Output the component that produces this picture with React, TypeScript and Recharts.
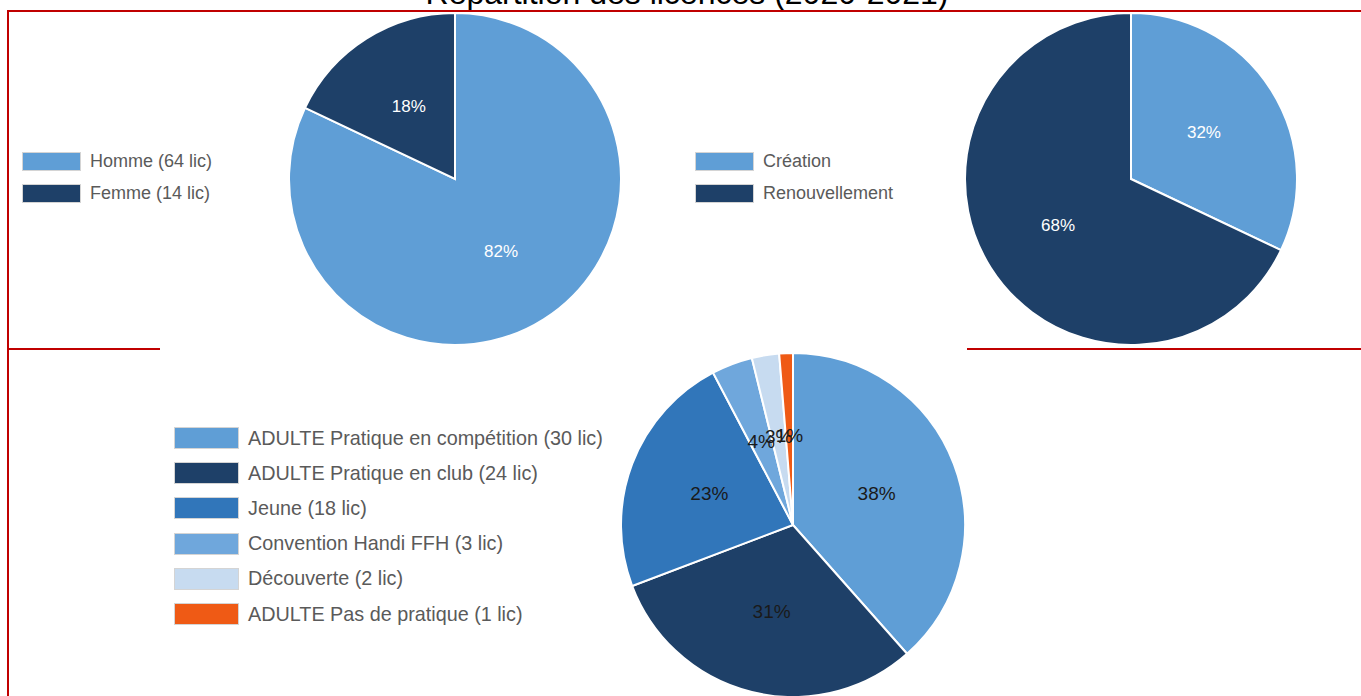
import { PieChart, Pie, Cell } from 'recharts'

const TITLE = 'Répartition des licences (2020-2021)'

const sexeLabels = ['Homme (64 lic)', 'Femme (14 lic)']
const sexeValues = [64, 14]
const sexeColors = ['#5f9ed6', '#1e4068']

const typeLabels = ['Création', 'Renouvellement']
const typeValues = [25, 53]
const typeColors = ['#5f9ed6', '#1e4068']

const catLabels = [
  'ADULTE Pratique en compétition (30 lic)',
  'ADULTE Pratique en club (24 lic)',
  'Jeune (18 lic)',
  'Convention Handi FFH (3 lic)',
  'Découverte (2 lic)',
  'ADULTE Pas de pratique (1 lic)',
]
const catValues = [30, 24, 18, 3, 2, 1]
const catColors = ['#5f9ed6', '#1e4068', '#3176ba', '#6fa7dc', '#c7dbf0', '#ef5a15']

const RADIAN = Math.PI / 180
const RED = '#c00000'
const FONT = "Arial, 'Liberation Sans', sans-serif"

function toRows(labels: string[], values: number[]) {
  return labels.map((name, i) => ({ name, value: values[i] }))
}

function makeLabel(color: string, fontSize: number) {
  return (props: any) => {
    const { cx, cy, midAngle, outerRadius, percent } = props
    const r = outerRadius * 0.52
    const x = cx + r * Math.cos(-midAngle * RADIAN)
    const y = cy + r * Math.sin(-midAngle * RADIAN)
    return (
      <text x={x} y={y} fill={color} fontSize={fontSize} textAnchor="middle" dominantBaseline="central" fontFamily={FONT}>
        {`${Math.round(percent * 100)}%`}
      </text>
    )
  }
}

function Legend({ labels, colors, left, top, box, gap, fontSize }:
  { labels: string[]; colors: string[]; left: number; top: number; box: [number, number]; gap: number; fontSize: number }) {
  return (
    <div style={{ position: 'absolute', left, top }}>
      {labels.map((l, i) => (
        <div key={l} style={{ position: 'absolute', left: 0, top: i * gap, height: box[1], display: 'flex', alignItems: 'center', whiteSpace: 'nowrap' }}>
          <div style={{ width: box[0], height: box[1], background: colors[i], border: '1px solid #d4d4d4', boxSizing: 'border-box' }} />
          <span style={{ marginLeft: 9, fontSize, color: '#5a5a5a', fontFamily: FONT }}>{l}</span>
        </div>
      ))}
    </div>
  )
}

export default function App() {
  return (
    <div style={{ position: 'absolute', left: 0, top: 0, width: 1361, height: 696, background: '#fff', overflow: 'hidden' }}>
      <div style={{ position: 'absolute', left: 0, width: 1374, top: -23, textAlign: 'center', fontSize: 32, lineHeight: '32px', color: '#000', fontFamily: FONT, whiteSpace: 'nowrap' }}>
        {TITLE}
      </div>
      {/* red frame lines */}
      <div style={{ position: 'absolute', left: 7, top: 10, width: 1354, height: 2, background: RED }} />
      <div style={{ position: 'absolute', left: 7, top: 10, width: 2, height: 686, background: RED }} />
      <div style={{ position: 'absolute', left: 7, top: 348, width: 153, height: 2, background: RED }} />
      <div style={{ position: 'absolute', left: 967, top: 348, width: 394, height: 2, background: RED }} />

      <div style={{ position: 'absolute', left: 0, top: 0 }}>
        <PieChart width={1361} height={696} margin={{ top: 0, right: 0, bottom: 0, left: 0 }}>
          <Pie data={toRows(sexeLabels, sexeValues)} dataKey="value" nameKey="name" cx={455} cy={179} outerRadius={166}
            startAngle={90} endAngle={-270} stroke="#fff" strokeWidth={2} labelLine={false}
            label={makeLabel('#ffffff', 17)} isAnimationActive={false}>
            {sexeValues.map((_, i) => <Cell key={i} fill={sexeColors[i]} />)}
          </Pie>
          <Pie data={toRows(typeLabels, typeValues)} dataKey="value" nameKey="name" cx={1131} cy={179} outerRadius={166}
            startAngle={90} endAngle={-270} stroke="#fff" strokeWidth={2} labelLine={false}
            label={makeLabel('#ffffff', 17)} isAnimationActive={false}>
            {typeValues.map((_, i) => <Cell key={i} fill={typeColors[i]} />)}
          </Pie>
          <Pie data={toRows(catLabels, catValues)} dataKey="value" nameKey="name" cx={793} cy={525} outerRadius={172}
            startAngle={90} endAngle={-270} stroke="#fff" strokeWidth={2} labelLine={false}
            label={makeLabel('#1a1a1a', 19)} isAnimationActive={false}>
            {catValues.map((_, i) => <Cell key={i} fill={catColors[i]} />)}
          </Pie>
        </PieChart>
      </div>

      <Legend labels={sexeLabels} colors={sexeColors} left={22} top={152} box={[59, 19]} gap={32} fontSize={18} />
      <Legend labels={typeLabels} colors={typeColors} left={695} top={152} box={[59, 19]} gap={32} fontSize={18} />
      <Legend labels={catLabels} colors={catColors} left={174} top={427} box={[65, 22]} gap={35.2} fontSize={19.8} />
    </div>
  )
}
